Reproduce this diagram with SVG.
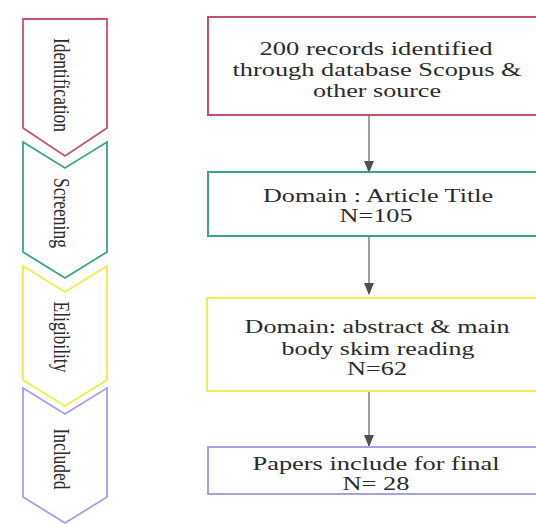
<svg xmlns="http://www.w3.org/2000/svg" width="536" height="524" viewBox="0 0 536 524">
<style>
.stage{fill:#ffffff;stroke-width:1.8;stroke-linejoin:miter}
.box{fill:#ffffff;stroke-width:2}
.t{font-family:"Liberation Serif","Times New Roman",serif;font-size:19px;fill:#2b2b2b;text-anchor:middle}
.vt{font-family:"Liberation Serif","Times New Roman",serif;font-size:17.5px;fill:#2b2b2b;text-anchor:middle}
.line{stroke:#a0a0a0;stroke-width:2;fill:none}
</style>
<defs>
<marker id="ah" markerWidth="6" markerHeight="5" refX="5.5" refY="2.5" orient="auto" markerUnits="strokeWidth">
<path d="M0,0 L6,2.5 L0,5 z" fill="#505050"/>
</marker>
</defs>
<rect width="536" height="524" fill="#ffffff"/>
<g id="stage-identification">
<path class="stage" stroke="#c9506a" d="M23,19 L107,19 L107,128 L65,156 L23,128 Z"/>
<text class="vt" transform="translate(54,85) scale(1.3,1) rotate(90)">Identification</text>
</g>
<g id="stage-screening">
<path class="stage" stroke="#3aa582" d="M23,142 L65,168 L107,142 L107,252 L65,278 L23,252 Z"/>
<text class="vt" transform="translate(54,213) scale(1.3,1) rotate(90)">Screening</text>
</g>
<g id="stage-eligibility">
<path class="stage" stroke="#eeee44" d="M23,266 L65,292 L107,266 L107,380 L65,406 L23,380 Z"/>
<text class="vt" transform="translate(54,337) scale(1.3,1) rotate(90)">Eligibility</text>
</g>
<g id="stage-included">
<path class="stage" stroke="#ab9de8" d="M23,388 L65,414 L107,388 L107,497 L65,523 L23,497 Z"/>
<text class="vt" transform="translate(54,459) scale(1.3,1) rotate(90)">Included</text>
</g>
<g id="connectors">
<line class="line" x1="369" y1="116" x2="369" y2="172" marker-end="url(#ah)"/>
<line class="line" x1="369" y1="237" x2="369" y2="294" marker-end="url(#ah)"/>
<line class="line" x1="369" y1="392" x2="369" y2="446" marker-end="url(#ah)"/>
</g>
<g id="box-records">
<rect class="box" stroke="#c9506a" x="208" y="17" width="340" height="98"/>
<text class="t" x="376" y="55" textLength="233" lengthAdjust="spacingAndGlyphs">200 records identified</text>
<text class="t" x="377" y="76" textLength="289" lengthAdjust="spacingAndGlyphs">through database Scopus &amp;</text>
<text class="t" x="377" y="97" textLength="128" lengthAdjust="spacingAndGlyphs">other source</text>
</g>
<g id="box-title">
<rect class="box" stroke="#3aa582" x="208" y="172" width="340" height="64"/>
<text class="t" x="378" y="202" textLength="230" lengthAdjust="spacingAndGlyphs">Domain : Article Title</text>
<text class="t" x="376" y="222" textLength="73" lengthAdjust="spacingAndGlyphs">N=105</text>
</g>
<g id="box-abstract">
<rect class="box" stroke="#f0ee50" x="207" y="298" width="340" height="93"/>
<text class="t" x="377" y="333" textLength="265" lengthAdjust="spacingAndGlyphs">Domain: abstract &amp; main</text>
<text class="t" x="378" y="355" textLength="193" lengthAdjust="spacingAndGlyphs">body skim reading</text>
<text class="t" x="377" y="375" textLength="60" lengthAdjust="spacingAndGlyphs">N=62</text>
</g>
<g id="box-final">
<rect class="box" stroke="#ab9de8" stroke-width="1.4" x="208" y="447" width="340" height="47"/>
<text class="t" x="376" y="470" textLength="247" lengthAdjust="spacingAndGlyphs">Papers include for final</text>
<text class="t" x="376" y="490" textLength="67" lengthAdjust="spacingAndGlyphs">N= 28</text>
</g>
</svg>
